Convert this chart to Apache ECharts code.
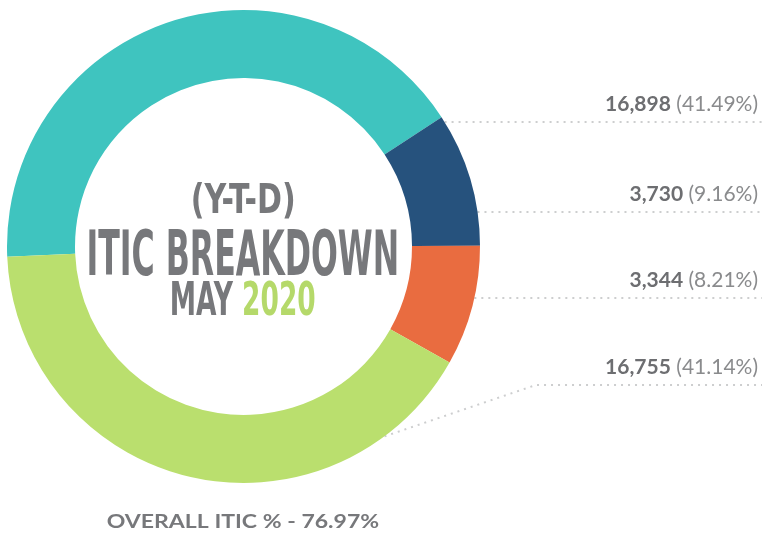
<!DOCTYPE html>
<html>
<head>
<meta charset="utf-8">
<script src="https://cdn.jsdelivr.net/npm/echarts@6/dist/echarts.min.js"></script>
<style>
  html, body { margin: 0; padding: 0; background: #fff; }
  #main { width: 762px; height: 533px; }
</style>
</head>
<body>
<div id="main"></div>
<script>
// 数据
var sliceNames = ['ITIC', 'Segment 2', 'Segment 3', 'Segment 4'];
var sliceValues = [16898, 3730, 3344, 16755];
var sliceColors = ['#3fc4bf', '#26527d', '#e96c40', '#badf6e'];
var titleTop = '(Y-T-D)';
var titleMain = 'ITIC BREAKDOWN';
var titleMonth = 'MAY';
var titleYear = '2020';
var overallText = 'OVERALL ITIC % - 76.97%';

// 布局
var cx = 243.5, cy = 246.5, rOut = 236.5, rIn = 168.5;
var labelRight = 758;
var labelY = [104, 194, 280, 367];
var lineY = [122, 212, 298, 385];
var lastElbowX = 536, lastStartDeg = 53.4;
var grey = '#77787b';
var green = '#b5d96a';
var condensed = "'DejaVu Sans Condensed'";

// 按墨迹尺寸计算文字大小与横向缩放
var ctx = document.createElement('canvas').getContext('2d');
ctx.textBaseline = 'middle';
function fitText(text, family, weight, capH, inkW, centerX, base) {
  ctx.font = weight + ' 100px ' + family;
  var h = ctx.measureText('H');
  var size = capH / ((h.actualBoundingBoxAscent + h.actualBoundingBoxDescent) / 100);
  ctx.font = weight + ' ' + size + 'px ' + family;
  var m = ctx.measureText(text);
  var hm = ctx.measureText('H');
  var sx = inkW / (m.actualBoundingBoxLeft + m.actualBoundingBoxRight);
  var mid = (m.actualBoundingBoxRight - m.actualBoundingBoxLeft) / 2;
  return { size: size, sx: sx, x: centerX - mid * sx, y: base - hm.actualBoundingBoxDescent };
}
function textEl(text, f, family, weight, color, x) {
  return {
    type: 'text', x: x == null ? f.x : x, y: f.y, scaleX: f.sx, silent: true,
    style: { text: text, fill: color, fontSize: f.size, fontFamily: family, fontWeight: weight,
      align: 'left', verticalAlign: 'middle' }
  };
}

var fTop = fitText(titleTop, condensed, 'bold', 30, 100, 243.3, 213.3);
var fMain = fitText(titleMain, condensed, 'bold', 45, 307.4, 243, 275);
var fMay = fitText(titleMonth + ' ' + titleYear, condensed, 'bold', 34, 143.3, 243.3, 315);
ctx.font = 'bold ' + fMay.size + 'px ' + condensed;
var yearX = fMay.x + ctx.measureText(titleMonth + ' ').width * fMay.sx;
var fAll = fitText(overallText, 'Lato', 'bold', 13.3, 272.6, 243, 528.3);

var graphics = [
  textEl(titleTop, fTop, condensed, 'bold', grey),
  textEl(titleMain, fMain, condensed, 'bold', grey),
  textEl(titleMonth, fMay, condensed, 'bold', grey),
  textEl(titleYear, fMay, condensed, 'bold', green, yearX),
  textEl(overallText, fAll, 'Lato', 'bold', grey)
];

function guidePoints(i) {
  var y = lineY[i];
  if (i === sliceValues.length - 1) {
    var a = lastStartDeg * Math.PI / 180;
    return [[cx + rOut * Math.cos(a), cy + rOut * Math.sin(a)], [lastElbowX, y], [762, y]];
  }
  var x0 = cx + Math.sqrt(rOut * rOut - (y - cy) * (y - cy));
  return [[x0, y], [x0 + 1, y], [762, y]];
}

var chart = echarts.init(document.getElementById('main'));
chart.setOption({
  animation: false,
  backgroundColor: '#fff',
  graphic: graphics,
  series: [{
    type: 'pie',
    center: [cx, cy],
    radius: [rIn, rOut],
    startAngle: 182.5,
    clockwise: true,
    silent: true,
    avoidLabelOverlap: false,
    data: sliceValues.map(function (v, i) {
      return { name: sliceNames[i], value: v, itemStyle: { color: sliceColors[i] } };
    }),
    label: {
      show: true,
      formatter: function (p) {
        return '{b|' + p.value.toLocaleString('en-US') + '}{p| (' + p.percent.toFixed(2) + '%)}';
      },
      rich: {
        b: { fontFamily: 'Lato', fontWeight: 'bold', fontSize: 21, color: '#6d6e71' },
        p: { fontFamily: 'Lato', fontWeight: 'normal', fontSize: 21, color: '#8a8b8d' }
      }
    },
    labelLine: {
      show: true, length: 10, length2: 10, smooth: false,
      lineStyle: { color: '#cdcecf', width: 2, type: [2, 5] }
    },
    labelLayout: function (p) {
      var i = p.dataIndex;
      return {
        x: labelRight, y: labelY[i], align: 'right', verticalAlign: 'middle',
        labelLinePoints: guidePoints(i)
      };
    }
  }]
});
</script>
</body>
</html>
